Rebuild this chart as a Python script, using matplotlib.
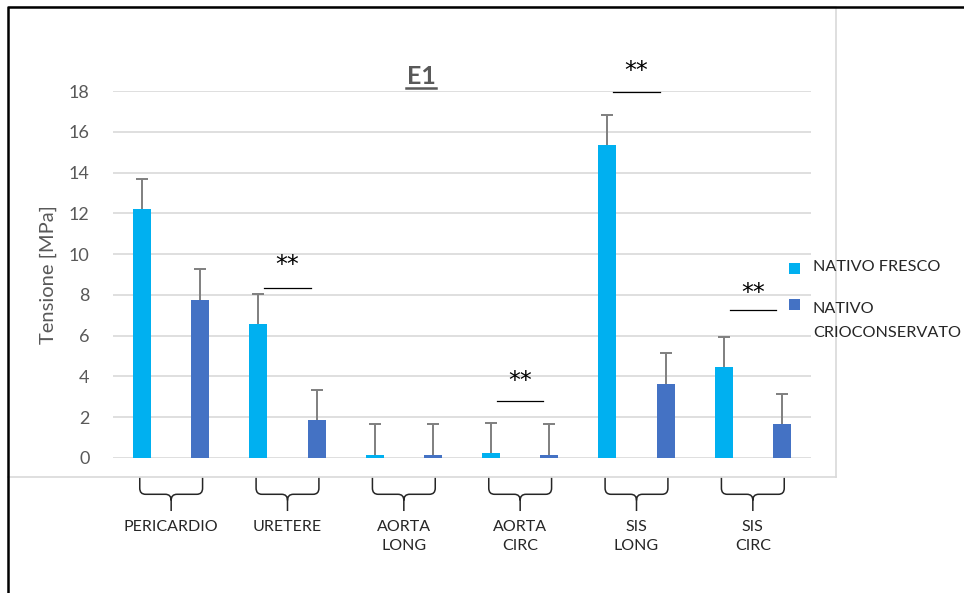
import numpy as np
import matplotlib.pyplot as plt
from matplotlib.path import Path
from matplotlib.patches import PathPatch, Rectangle
from matplotlib.lines import Line2D

plt.rcParams['font.family'] = ['Lato', 'DejaVu Sans']

# data
categories = ["PERICARDIO", "URETERE", "AORTA\nLONG", "AORTA\nCIRC", "SIS\nLONG", "SIS\nCIRC"]
fresco = [12.2, 6.55, 0.15, 0.25, 15.35, 4.45]
fresco_err = [1.5, 1.5, 1.5, 1.45, 1.45, 1.5]
crio = [7.75, 1.85, 0.15, 0.15, 3.65, 1.65]
crio_err = [1.5, 1.5, 1.5, 1.5, 1.5, 1.5]
series_names = ["NATIVO FRESCO", "NATIVO\nCRIOCONSERVATO"]
# significance: (group index, line height, star height)
signif = [(1, 8.35, 9.45), (3, 2.8, 3.8), (4, 17.95, 19.0), (5, 7.25, 8.1)]

c_fresco = '#00B0F0'
c_crio = '#4472C4'
grey_txt = '#595959'
err_col = '#7f7f7f'

fig = plt.figure(figsize=(9.64, 5.93), dpi=100)
ax = fig.add_axes([113/964, 1 - 458/593, 698/964, 367/593])

x = np.arange(len(categories))
w = 0.155
for off, vals, errs, col in [(-0.25, fresco, fresco_err, c_fresco),
                             (0.25, crio, crio_err, c_crio)]:
    xs = x + off
    tops = np.add(vals, errs)
    ax.bar(xs, vals, w, color=col, zorder=3)
    ax.vlines(xs, vals, tops, color=err_col, lw=1.4, zorder=4)
    ax.plot(xs, tops, ls='none', marker='_', ms=8, mew=1.4, color=err_col, zorder=4)

ax.set_xlim(-0.5, 5.5)
ax.set_ylim(0, 18)
ax.set_yticks(np.arange(0, 19, 2))
ax.grid(axis='y', color='#d9d9d9', linewidth=1.2, zorder=0)
ax.set_xticks([])
for s in ax.spines.values():
    s.set_visible(False)
ax.tick_params(axis='y', length=0, labelsize=13, labelcolor=grey_txt, pad=17)
ax.set_ylabel("Tensione [MPa]", fontsize=14.5, color=grey_txt, labelpad=8)

ax.text(2.155, 18.72, "E1", fontsize=18, fontweight='bold', color=grey_txt,
        ha='center', va='center')
ax.plot([2.02, 2.28], [18.17, 18.17], color=grey_txt, lw=1.8, clip_on=False)

# significance markers
for g, yl, ys in signif:
    ax.plot([g - 0.2, g + 0.2], [yl, yl], color='black', lw=0.9, clip_on=False, zorder=5)
    ax.text(g, ys, "**", fontsize=17, ha='center', va='center', color='black',
            family='DejaVu Sans')

# curly brackets under each group
dx, dy = 0.05, 0.3
y_top, y_mid, y_tip = -0.95, -1.78, -2.6
for i in x:
    x0, x1 = i - 0.27, i + 0.27
    verts = [(x0, y_top), (x0, y_mid + dy), (x0, y_mid), (x0 + dx, y_mid),
             (i - dx, y_mid), (i, y_mid), (i, y_mid - dy), (i, y_tip),
             (i, y_mid - dy), (i, y_mid), (i + dx, y_mid),
             (x1 - dx, y_mid), (x1, y_mid), (x1, y_mid + dy), (x1, y_top)]
    codes = [Path.MOVETO, Path.LINETO, Path.CURVE3, Path.CURVE3,
             Path.LINETO, Path.CURVE3, Path.CURVE3, Path.LINETO,
             Path.MOVETO, Path.CURVE3, Path.CURVE3,
             Path.LINETO, Path.CURVE3, Path.CURVE3, Path.LINETO]
    ax.add_patch(PathPatch(Path(verts, codes), facecolor='none', edgecolor='#262626',
                           lw=1.1, clip_on=False))
    ax.text(i, -3.05, categories[i], ha='center', va='top', fontsize=11.5,
            color='#262626', linespacing=1.45)

# legend drawn by hand
legend_sq_y = [268, 304]
legend_txt_top = [260, 302]
for k, (name, col) in enumerate(zip(series_names, [c_fresco, c_crio])):
    ypx = legend_sq_y[k]
    fig.add_artist(Rectangle((789/964, 1 - (ypx + 6)/593), 11/964, 11/593,
                             facecolor=col, edgecolor='none', transform=fig.transFigure))
    fig.text(813/964, 1 - legend_txt_top[k]/593, name, ha='left', va='top', fontsize=11.7,
             color='#262626', linespacing=1.95)

# frames
fig.add_artist(Line2D([8/964, 836/964, 836/964], [1 - 7/593, 1 - 7/593, 1 - 477/593],
                      color='#d9d9d9', lw=1.2, transform=fig.transFigure))
fig.add_artist(Line2D([8/964, 836/964], [1 - 477/593, 1 - 477/593],
                      color='#d9d9d9', lw=1.2, transform=fig.transFigure))
fig.add_artist(Line2D([8/964, 8/964, 1.0], [0.0, 1 - 7/593, 1 - 7/593],
                      color='black', lw=1.8, transform=fig.transFigure))

fig.savefig('out.png', dpi=100)
